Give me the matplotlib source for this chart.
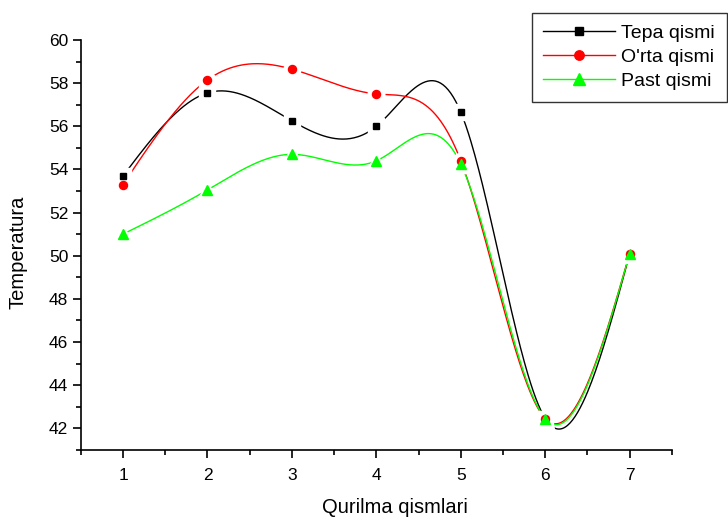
import numpy as np
import matplotlib
matplotlib.use("Agg")
from matplotlib import pyplot as plt
from matplotlib.ticker import MultipleLocator

x = [1, 2, 3, 4, 5, 6, 7]
tepa = [53.7, 57.55, 56.25, 56.0, 56.65, 42.45, 50.1]
orta = [53.3, 58.15, 58.65, 57.5, 54.4, 42.45, 50.1]
past = [51.0, 53.05, 54.7, 54.4, 54.25, 42.45, 50.1]
labels = ["Tepa qismi", "O'rta qismi", "Past qismi"]


def natural_spline(xs, ys, xn):
    # plain natural cubic spline, same idea as the Origin spline connector
    xs = np.asarray(xs, float)
    ys = np.asarray(ys, float)
    n = len(xs)
    h = np.diff(xs)
    A = np.zeros((n, n))
    b = np.zeros(n)
    A[0, 0] = A[-1, -1] = 1
    for i in range(1, n - 1):
        A[i, i - 1] = h[i - 1]
        A[i, i] = 2 * (h[i - 1] + h[i])
        A[i, i + 1] = h[i]
        b[i] = 3 * ((ys[i + 1] - ys[i]) / h[i] - (ys[i] - ys[i - 1]) / h[i - 1])
    c = np.linalg.solve(A, b)
    out = np.empty_like(xn)
    for k, t in enumerate(xn):
        i = min(max(np.searchsorted(xs, t) - 1, 0), n - 2)
        d = t - xs[i]
        bi = (ys[i + 1] - ys[i]) / h[i] - h[i] * (2 * c[i] + c[i + 1]) / 3
        di = (c[i + 1] - c[i]) / (3 * h[i])
        out[k] = ys[i] + bi * d + c[i] * d ** 2 + di * d ** 3
    return out


plt.rcParams['font.family'] = ['Liberation Sans', 'DejaVu Sans']

fig = plt.figure(figsize=(7.28, 5.2), dpi=100)
ax = fig.add_axes([0.111, 0.135, 0.812, 0.788])

xn = np.linspace(1, 7, 400)
# (values, colour, marker, size, white gap size)
series = [(tepa, 'black', 's', 4.8, 11), (orta, 'red', 'o', 5.8, 12), (past, '#00ff00', '^', 7.5, 13)]
handles = []
for (ys, col, mk, ms, gap), lab in zip(series, labels):
    ax.plot(xn, natural_spline(x, ys, xn), color=col, lw=1.0, zorder=2)
    ax.plot(x, ys, ls='none', marker=mk, ms=gap, color='white', zorder=3)
    ax.plot(x, ys, ls='none', marker=mk, ms=ms, color=col, zorder=4)
    h, = ax.plot([], [], color=col, lw=1.0, marker=mk, ms=ms + 1, label=lab)
    handles.append(h)

ax.set_xlim(0.5, 7.5)
ax.set_ylim(41, 60)
ax.xaxis.set_major_locator(MultipleLocator(1))
ax.xaxis.set_minor_locator(MultipleLocator(0.5))
ax.yaxis.set_minor_locator(MultipleLocator(1))
ax.set_yticks(range(42, 61, 2))
ax.spines['top'].set_visible(False)
ax.spines['right'].set_visible(False)
for s in ('left', 'bottom'):
    ax.spines[s].set_linewidth(1.2)
ax.tick_params(which='major', direction='out', length=6, width=1.2, labelsize=12.5)
ax.tick_params(which='minor', direction='out', length=3.5, width=1.2)
ax.tick_params(axis='x', pad=7)
ax.tick_params(axis='y', pad=3)

ax.set_xlabel("Qurilma qismlari", fontsize=14.5)
ax.xaxis.set_label_coords(0.532, -0.117)
ax.set_ylabel("Temperatura", fontsize=14.5)
ax.yaxis.set_label_coords(-0.09, 0.483)

leg = fig.legend(handles=handles, loc='upper right', bbox_to_anchor=(0.998, 0.975),
                 fontsize=14, frameon=True, fancybox=False, borderpad=0.6,
                 handlelength=3.7, handletextpad=0.3, labelspacing=0.32,
                 borderaxespad=0)
leg.get_frame().set_edgecolor('black')
leg.get_frame().set_linewidth(1.0)

fig.savefig("out.png", dpi=100)
